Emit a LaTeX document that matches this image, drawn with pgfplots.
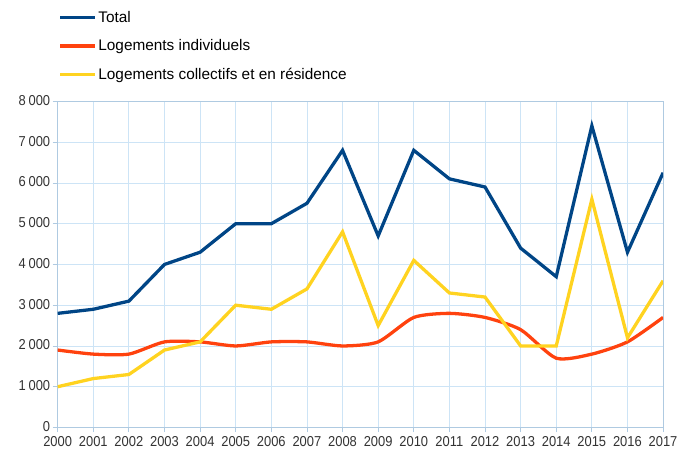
\documentclass[border=0pt]{standalone}
\usepackage{fontspec}
\setmainfont{Liberation Sans}
\newfontfamily\tickfont[FakeStretch=0.9]{Liberation Sans}
\usepackage{pgfplots}
\pgfplotsset{compat=1.18}
\definecolor{ctot}{HTML}{004586}
\definecolor{cind}{HTML}{FF420E}
\definecolor{ccol}{HTML}{FFD320}
\definecolor{gridc}{RGB}{205,228,246}
\definecolor{axc}{RGB}{175,202,225}
\begin{document}
\begin{tikzpicture}
\useasboundingbox (-58bp,-24bp) rectangle (624bp,430bp);
\begin{axis}[
  at={(0,0)}, anchor=south west,
  scale only axis, width=609bp, height=328bp,
  xmin=2000, xmax=2017, ymin=0, ymax=8000,
  xtick={2000,...,2017}, ytick={0,1000,...,8000},
  grid=major, grid style={gridc, line width=0.8bp},
  axis line style={axc, line width=0.8bp},
  tick style={axc, line width=0.8bp},
  tick align=outside, major tick length=5bp, tick pos=left,
  ticklabel style={font=\tickfont\fontsize{14.5}{16}\selectfont, text=black!80},
  xticklabel style={yshift=-0.5bp},
  yticklabel style={xshift=1bp, yshift=1bp},
  /pgf/number format/assume math mode=true,
  xticklabel style={/pgf/number format/1000 sep={}},
  yticklabel style={/pgf/number format/1000 sep={\hspace{0.2em}}},
  legend style={at={(1bp,420bp)}, anchor=north west, draw=none, fill=none,
    font=\fontsize{15.5}{17}\selectfont, row sep=14bp, legend cell align=left, inner sep=0pt,
    nodes={inner xsep=1.5bp, inner ysep=1bp}},
  legend image code/.code={\draw[#1] (0bp,0bp) -- (35bp,0bp);},
]
\addplot[ctot, line width=3.3bp] coordinates {
(2000,2800)(2001,2900)(2002,3100)(2003,4000)(2004,4300)(2005,5000)(2006,5000)(2007,5500)(2008,6800)
(2009,4700)(2010,6800)(2011,6100)(2012,5900)(2013,4400)(2014,3700)(2015,7400)(2016,4300)(2017,6250)};
\addlegendentry{Total}
\addplot[cind, line width=3.3bp, smooth, tension=0.4] coordinates {
(2000,1900)(2001,1800)(2002,1800)(2003,2100)(2004,2100)(2005,2000)(2006,2100)(2007,2100)(2008,2000)
(2009,2100)(2010,2700)(2011,2800)(2012,2700)(2013,2400)(2014,1700)(2015,1800)(2016,2100)(2017,2700)};
\addlegendentry{Logements individuels}
\addplot[ccol, line width=3.3bp] coordinates {
(2000,1000)(2001,1200)(2002,1300)(2003,1900)(2004,2100)(2005,3000)(2006,2900)(2007,3400)(2008,4800)
(2009,2500)(2010,4100)(2011,3300)(2012,3200)(2013,2000)(2014,2000)(2015,5600)(2016,2200)(2017,3600)};
\addlegendentry{Logements collectifs et en résidence}
\end{axis}
\end{tikzpicture}
\end{document}
